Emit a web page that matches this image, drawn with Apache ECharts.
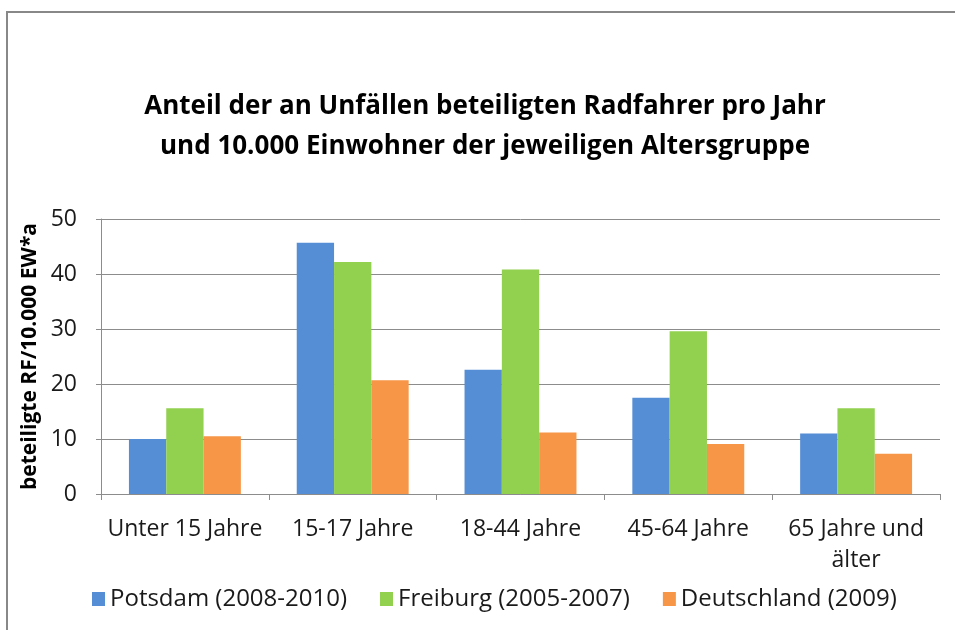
<!DOCTYPE html>
<html>
<head>
<meta charset="utf-8">
<script src="https://cdn.jsdelivr.net/npm/echarts@6/dist/echarts.min.js"></script>
<style>
  html, body { margin: 0; padding: 0; background: #fff; }
  #chart { width: 955px; height: 630px; }
</style>
</head>
<body>
<div id="chart"></div>
<script>
// Altersgruppen (x-Achse)
const categories = ['Unter 15 Jahre', '15-17 Jahre', '18-44 Jahre', '45-64 Jahre', '65 Jahre und\nälter']

// Werte pro Stadt / Land
const potsdam = [10.0, 45.7, 22.6, 17.5, 11.0]
const freiburg = [15.6, 42.2, 40.8, 29.6, 15.6]
const deutschland = [10.5, 20.7, 11.2, 9.1, 7.3]

const seriesNames = ['Potsdam (2008-2010)', 'Freiburg (2005-2007)', 'Deutschland (2009)']
const COLORS = ['#558ED5', '#92D050', '#F79646']

const FONT = '"Open Sans", "Noto Sans", sans-serif'
const AXIS_GRAY = '#8c8c8c'

const chart = echarts.init(document.getElementById('chart'), null, { renderer: 'canvas' })

const option = {
  backgroundColor: '#fff',
  animation: false,
  textStyle: { fontFamily: FONT },
  title: {
    text: 'Anteil der an Unfällen beteiligten Radfahrer pro Jahr\nund 10.000 Einwohner der jeweiligen Altersgruppe',
    left: 480,
    textAlign: 'center',
    top: 82,
    textStyle: {
      fontFamily: FONT,
      fontSize: 26,
      fontWeight: 'bold',
      color: '#000',
      lineHeight: 40
    }
  },
  // Rahmen um das Diagramm
  graphic: [{
    type: 'rect',
    shape: { x: 7, y: 12, width: 960, height: 640 },
    style: { fill: 'none', stroke: '#888', lineWidth: 2 },
    silent: true
  }],
  legend: {
    left: 87,
    top: 582,
    icon: 'rect',
    itemWidth: 13,
    itemHeight: 14,
    itemGap: 33,
    textStyle: { fontFamily: FONT, fontSize: 24, color: '#1a1a1a' },
    data: seriesNames
  },
  grid: {
    left: 101,
    right: 15,
    top: 219,
    bottom: 136,
    outerBoundsMode: 'none'
  },
  xAxis: {
    type: 'category',
    data: categories,
    axisLine: { lineStyle: { color: AXIS_GRAY, width: 1 } },
    axisTick: { show: true, length: 6, lineStyle: { color: AXIS_GRAY } },
    axisLabel: {
      fontFamily: FONT,
      fontSize: 23,
      color: '#1a1a1a',
      margin: 20,
      lineHeight: 31,
      interval: 0
    }
  },
  yAxis: {
    type: 'value',
    min: 0,
    max: 50,
    interval: 10,
    name: 'beteiligte RF/10.000 EW*a',
    nameLocation: 'middle',
    nameRotate: 90,
    nameGap: 60,
    nameMoveOverlap: false,
    nameTextStyle: { fontFamily: FONT, fontSize: 21, fontWeight: 'bold', color: '#000' },
    axisLine: { show: true, lineStyle: { color: AXIS_GRAY, width: 1 } },
    axisTick: { show: true, length: 5, lineStyle: { color: AXIS_GRAY } },
    axisLabel: { fontFamily: FONT, fontSize: 23, color: '#1a1a1a', margin: 24 },
    splitLine: { lineStyle: { color: AXIS_GRAY, width: 1 } }
  },
  series: [
    { name: seriesNames[0], type: 'bar', data: potsdam, barGap: 0, barCategoryGap: '33.3%', itemStyle: { color: COLORS[0] } },
    { name: seriesNames[1], type: 'bar', data: freiburg, barGap: 0, barCategoryGap: '33.3%', itemStyle: { color: COLORS[1] } },
    { name: seriesNames[2], type: 'bar', data: deutschland, barGap: 0, barCategoryGap: '33.3%', itemStyle: { color: COLORS[2] } }
  ]
}

chart.setOption(option)
</script>
</body>
</html>
